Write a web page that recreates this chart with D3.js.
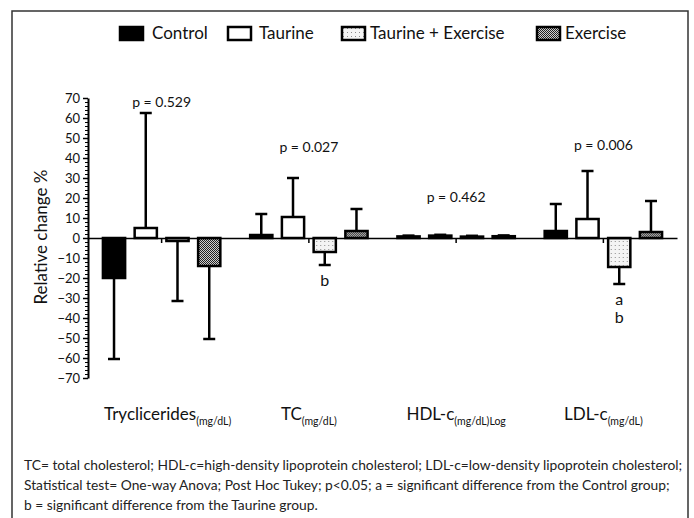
<!DOCTYPE html>
<html>
<head>
<meta charset="utf-8">
<script src="https://cdn.jsdelivr.net/npm/d3@7"></script>
<style>
  body { margin: 0; background: #fff; }
  svg { font-family: Lato, "Open Sans", sans-serif; }
</style>
</head>
<body>
<svg id="chart" width="694" height="518"></svg>
<script>
// data
var categories = ["Tryclicerides", "TC", "HDL-c", "LDL-c"];
var subscripts = ["(mg/dL)", "(mg/dL)", "(mg/dL)Log", "(mg/dL)"];
var groups = ["Control", "Taurine", "Taurine + Exercise", "Exercise"];

var control     = [-20, 1.5, 0.8, 3.5];
var controlErr  = [40.5, 10.5, 0.4, 13.5];
var taurine     = [5, 10.5, 1.2, 9.5];
var taurineErr  = [57.5, 19.5, 0.4, 24];
var taurEx      = [-1.5, -7, 0.7, -14.5];
var taurExErr   = [30, 6.5, 0.4, 8.5];
var exercise    = [-14, 3.5, 0.9, 3];
var exerciseErr = [36.5, 11, 0.4, 15.5];

var pValues = ["p = 0.529", "p = 0.027", "p = 0.462", "p = 0.006"];
var taurExLetters = [[], ["b"], [], ["a", "b"]];

var yTicks = [70, 60, 50, 40, 30, 20, 10, 0, -10, -20, -30, -40, -50, -60, -70];

var footer = [
  "TC= total cholesterol; HDL-c=high-density lipoprotein cholesterol; LDL-c=low-density lipoprotein cholesterol;",
  "Statistical test= One-way Anova; Post Hoc Tukey; p<0.05; a = significant difference from the Control group;",
  "b = significant difference from the Taurine group."
];

// layout
var pLevel = [68, 45.5, 20.5, 46.5];
var legendX = [120, 228, 342, 537];
var legendGap = [8, 7, 4, 4];
var labelShift = [6, 0, 0, 0];

var svg = d3.select("#chart");

var series = [
  {name: groups[0], vals: control, errs: controlErr, fill: "#000"},
  {name: groups[1], vals: taurine, errs: taurineErr, fill: "#fff"},
  {name: groups[2], vals: taurEx, errs: taurExErr, fill: "url(#dots)"},
  {name: groups[3], vals: exercise, errs: exerciseErr, fill: "url(#checker)"}
];

// patterns
var defs = svg.append("defs");
var dots = defs.append("pattern").attr("id", "dots")
    .attr("patternUnits", "userSpaceOnUse").attr("width", 4).attr("height", 4);
dots.append("rect").attr("width", 4).attr("height", 4).attr("fill", "#f4f4f4");
dots.append("rect").attr("x", 1).attr("y", 1).attr("width", 1).attr("height", 1).attr("fill", "#8a8a8a");
var checker = defs.append("pattern").attr("id", "checker")
    .attr("patternUnits", "userSpaceOnUse").attr("width", 2).attr("height", 2);
checker.append("rect").attr("width", 2).attr("height", 2).attr("fill", "#cfcfcf");
checker.append("rect").attr("width", 1).attr("height", 1).attr("fill", "#222");
checker.append("rect").attr("x", 1).attr("y", 1).attr("width", 1).attr("height", 1).attr("fill", "#222");

// frame
svg.append("path")
    .attr("d", "M12,530 L12,11 L688,11 L688,530")
    .attr("fill", "none").attr("stroke", "#333").attr("stroke-width", 1.5);

var x = d3.scaleBand().domain(categories).range([88, 677]);
var xIn = d3.scaleBand().domain(groups).range([0, x.bandwidth()])
    .paddingInner(0.3).paddingOuter(0.47);
var y = d3.scaleLinear().domain([-70, 70]).range([378, 98]);

// y axis
var minor = svg.append("g").attr("transform", "translate(88,0)")
    .call(d3.axisLeft(y).tickValues(d3.range(-70, 71, 2)).tickSize(3).tickFormat(""));
minor.select(".domain").remove();
minor.selectAll("line").attr("stroke-width", 1);

var yAxis = svg.append("g").attr("transform", "translate(88,0)")
    .call(d3.axisLeft(y).tickValues(yTicks).tickSize(5).tickSizeOuter(0).tickPadding(3));
yAxis.select(".domain").attr("stroke-width", 2);
yAxis.selectAll("line").attr("stroke-width", 1.5);
yAxis.selectAll("text").attr("font-size", 13).attr("fill", "#111")
    .attr("font-family", "Lato, sans-serif");

svg.append("text")
    .attr("transform", "translate(47,237) rotate(-90)")
    .attr("text-anchor", "middle")
    .attr("font-size", 17)
    .attr("fill", "#111")
    .text("Relative change %");

// bars
var gCat = svg.selectAll("g.cat").data(categories).enter().append("g")
    .attr("class", "cat")
    .attr("transform", function(d) { return "translate(" + x(d) + ",0)"; });

function errEnd(s, i) {
  var v = s.vals[i];
  return y(v < 0 ? v - s.errs[i] : v + s.errs[i]);
}

series.forEach(function(s) {
  gCat.append("rect")
      .attr("x", xIn(s.name))
      .attr("width", xIn.bandwidth())
      .attr("y", function(d, i) { return y(Math.max(0, s.vals[i])); })
      .attr("height", function(d, i) { return Math.abs(y(s.vals[i]) - y(0)); })
      .attr("fill", s.fill)
      .attr("stroke", "#000")
      .attr("stroke-width", 2.5);

  var cx = xIn(s.name) + xIn.bandwidth() / 2;
  gCat.append("line")
      .attr("x1", cx).attr("x2", cx)
      .attr("y1", function(d, i) { return y(s.vals[i]); })
      .attr("y2", function(d, i) { return errEnd(s, i); })
      .attr("stroke", "#000").attr("stroke-width", 2.5);
  gCat.append("line")
      .attr("x1", cx - 6).attr("x2", cx + 6)
      .attr("y1", function(d, i) { return errEnd(s, i); })
      .attr("y2", function(d, i) { return errEnd(s, i); })
      .attr("stroke", "#000").attr("stroke-width", 2.5);
});

// x axis on zero line
var xAxis = svg.append("g").attr("transform", "translate(0," + y(0) + ")")
    .call(d3.axisBottom(x).tickSize(5).tickSizeOuter(0).tickFormat(""));
xAxis.select(".domain").attr("stroke-width", 1.5);
xAxis.selectAll("line").attr("stroke-width", 1.5);

// p values
svg.selectAll("text.p").data(pValues).enter().append("text")
    .attr("class", "p")
    .attr("x", function(d, i) { return x(categories[i]) + x.bandwidth() / 2; })
    .attr("y", function(d, i) { return y(pLevel[i]); })
    .attr("dy", "0.35em")
    .attr("text-anchor", "middle")
    .attr("font-size", 14)
    .attr("fill", "#111")
    .text(function(d) { return d; });

// post hoc letters under Taurine + Exercise bars
categories.forEach(function(c, i) {
  var cx = x(c) + xIn(groups[2]) + xIn.bandwidth() / 2;
  var bottom = y(taurEx[i] - taurExErr[i]);
  taurExLetters[i].forEach(function(l, k) {
    svg.append("text")
        .attr("x", cx)
        .attr("y", bottom + 21 + k * 18)
        .attr("text-anchor", "middle")
        .attr("font-size", 16)
        .attr("fill", "#111")
        .text(l);
  });
});

// category labels
var catLab = svg.selectAll("text.cat").data(categories).enter().append("text")
    .attr("class", "cat")
    .attr("x", function(d, i) { return x(d) + x.bandwidth() / 2 + labelShift[i]; })
    .attr("y", 420)
    .attr("text-anchor", "middle")
    .attr("font-size", 17)
    .attr("fill", "#111");
catLab.append("tspan").text(function(d) { return d; });
catLab.append("tspan").attr("font-size", 10.5).attr("dy", 5)
    .text(function(d, i) { return subscripts[i]; });

// legend
var leg = svg.selectAll("g.leg").data(series).enter().append("g")
    .attr("class", "leg")
    .attr("transform", function(d, i) { return "translate(" + legendX[i] + ",27)"; });
leg.append("rect")
    .attr("width", 23).attr("height", 13)
    .attr("fill", function(d) { return d.fill; })
    .attr("stroke", "#000").attr("stroke-width", 2.5);
leg.append("text")
    .attr("x", function(d, i) { return 24 + legendGap[i]; })
    .attr("y", 12)
    .attr("font-size", 17)
    .attr("fill", "#111")
    .text(function(d) { return d.name; });

// footer
svg.selectAll("text.foot").data(footer).enter().append("text")
    .attr("class", "foot")
    .attr("x", 24)
    .attr("y", function(d, i) { return 470 + i * 20; })
    .attr("font-size", 13.8)
    .attr("fill", "#222")
    .text(function(d) { return d; });
</script>
</body>
</html>
